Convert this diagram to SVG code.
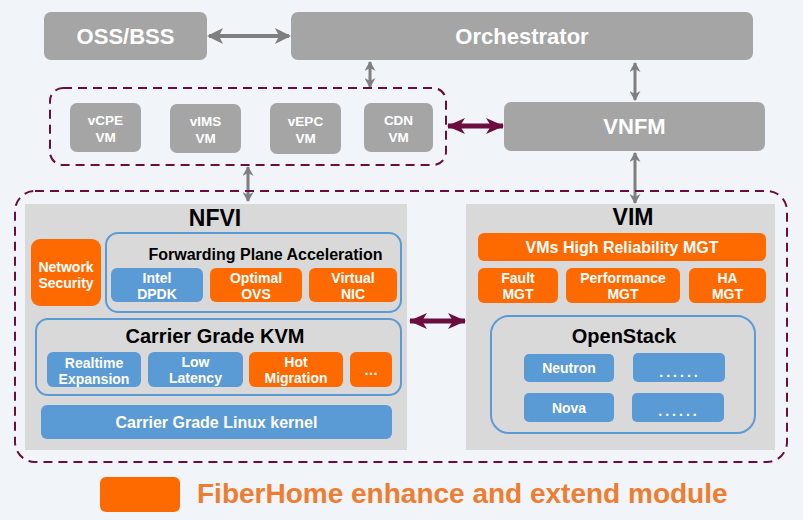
<svg xmlns="http://www.w3.org/2000/svg" width="803" height="520" viewBox="0 0 803 520">
<defs>
<style>
.gray{fill:#a5a5a5}
.org{fill:#ff6a00}
.blu{fill:#5b9bd5}
.pnl{fill:#d9d9d9}
.grp{fill:none;stroke:#5b9bd5;stroke-width:2}
.dash{fill:none;stroke:#6b0d3e;stroke-width:2;stroke-dasharray:9 6}
text{font-family:"Liberation Sans",Arial,sans-serif;font-weight:bold;text-anchor:middle}
.w{fill:#ffffff}
.b{fill:#000000}
.dots{letter-spacing:3px}
.ga{stroke:#7f7f7f;fill:none}
.ma{stroke:#6b0d3e;fill:none;stroke-width:5}
</style>
<marker id="gh" markerUnits="userSpaceOnUse" viewBox="0 0 16 16" refX="14" refY="8" markerWidth="16" markerHeight="16" orient="auto-start-reverse"><path d="M0,0 L16,8 L0,16 L4,8 Z" fill="#7f7f7f"/></marker>
<marker id="gs" markerUnits="userSpaceOnUse" viewBox="0 0 10 11" refX="9" refY="5.5" markerWidth="10" markerHeight="11" orient="auto-start-reverse"><path d="M0,0 L10,5.5 L0,11 L3,5.5 Z" fill="#7f7f7f"/></marker>
<marker id="mh" markerUnits="userSpaceOnUse" viewBox="0 0 18 16" refX="17" refY="8" markerWidth="18" markerHeight="16" orient="auto-start-reverse"><path d="M0,0 L18,8 L0,16 L5,8 Z" fill="#6b0d3e"/></marker>
</defs>
<rect width="803" height="520" fill="#f1f4f9"/>

<g id="connectors">
<line class="ga" x1="209" y1="36" x2="289" y2="36" stroke-width="4" marker-start="url(#gh)" marker-end="url(#gh)"/>
<line class="ga" x1="370" y1="62" x2="370" y2="87" stroke-width="3" marker-start="url(#gs)" marker-end="url(#gs)"/>
<line class="ga" x1="635" y1="63" x2="635" y2="100" stroke-width="3" marker-start="url(#gs)" marker-end="url(#gs)"/>
<line class="ga" x1="635" y1="153" x2="635" y2="203" stroke-width="3" marker-start="url(#gs)" marker-end="url(#gs)"/>
<line class="ga" x1="248" y1="167" x2="248" y2="201" stroke-width="3" marker-start="url(#gs)" marker-end="url(#gs)"/>
<line class="ma" x1="448" y1="126" x2="503" y2="126" marker-start="url(#mh)" marker-end="url(#mh)"/>
<line class="ma" x1="410" y1="321" x2="465" y2="321" marker-start="url(#mh)" marker-end="url(#mh)"/>
</g>

<g id="oss"><rect class="gray" x="44" y="12" width="163" height="48" rx="7"/><text class="w" x="125.5" y="44" font-size="22">OSS/BSS</text></g>
<g id="orchestrator"><rect class="gray" x="291" y="12" width="462" height="48" rx="7"/><text class="w" x="522" y="44" font-size="22">Orchestrator</text></g>

<g id="vnf-group"><rect class="dash" x="50" y="88" width="396" height="77" rx="13"/></g>
<g id="vcpe"><rect class="gray" x="70" y="103" width="71" height="49" rx="7"/><text class="w" x="105.5" y="125" font-size="13.5">vCPE</text><text class="w" x="105.5" y="142" font-size="13.5">VM</text></g>
<g id="vims"><rect class="gray" x="170" y="104" width="71" height="49" rx="7"/><text class="w" x="205.5" y="126" font-size="13.5">vIMS</text><text class="w" x="205.5" y="143" font-size="13.5">VM</text></g>
<g id="vepc"><rect class="gray" x="270" y="103" width="71" height="51" rx="7"/><text class="w" x="305.5" y="126" font-size="13.5">vEPC</text><text class="w" x="305.5" y="143" font-size="13.5">VM</text></g>
<g id="cdn"><rect class="gray" x="364" y="103" width="69" height="49" rx="7"/><text class="w" x="398.5" y="125" font-size="13.5">CDN</text><text class="w" x="398.5" y="142" font-size="13.5">VM</text></g>

<g id="vnfm"><rect class="gray" x="504" y="102" width="261" height="49" rx="7"/><text class="w" x="634.5" y="134" font-size="22">VNFM</text></g>

<g id="infra-group"><rect class="dash" x="15" y="191" width="772" height="271" rx="20"/></g>

<g id="nfvi">
<rect class="pnl" x="25" y="204" width="382" height="246"/>
<text class="b" x="215" y="226" font-size="23">NFVI</text>
</g>
<g id="netsec"><rect class="org" x="31" y="239" width="70" height="67" rx="9"/><text class="w" x="66" y="272" font-size="14">Network</text><text class="w" x="66" y="288" font-size="14">Security</text></g>
<g id="fpa">
<rect class="grp" x="106" y="233" width="295" height="79" rx="12"/>
<text class="b" x="265.5" y="260" font-size="16">Forwarding Plane Acceleration</text>
</g>
<g id="dpdk"><rect class="blu" x="111" y="268" width="92" height="34" rx="6"/><text class="w" x="157" y="283" font-size="14">Intel</text><text class="w" x="157" y="299" font-size="14">DPDK</text></g>
<g id="ovs"><rect class="org" x="210" y="268" width="92" height="34" rx="6"/><text class="w" x="256" y="283" font-size="14">Optimal</text><text class="w" x="256" y="299" font-size="14">OVS</text></g>
<g id="vnic"><rect class="org" x="309" y="268" width="88" height="34" rx="6"/><text class="w" x="353" y="283" font-size="14">Virtual</text><text class="w" x="353" y="299" font-size="14">NIC</text></g>
<g id="kvm">
<rect class="grp" x="36" y="319" width="365" height="76" rx="12"/>
<text class="b" x="215" y="343" font-size="20">Carrier Grade KVM</text>
</g>
<g id="realtime"><rect class="blu" x="47" y="352" width="94" height="35" rx="6"/><text class="w" x="94" y="368" font-size="14">Realtime</text><text class="w" x="94" y="384" font-size="14">Expansion</text></g>
<g id="lowlat"><rect class="blu" x="148" y="352" width="95" height="35" rx="6"/><text class="w" x="195.5" y="367" font-size="14">Low</text><text class="w" x="195.5" y="383" font-size="14">Latency</text></g>
<g id="hotmig"><rect class="org" x="249" y="352" width="94" height="35" rx="6"/><text class="w" x="296" y="367" font-size="14">Hot</text><text class="w" x="296" y="383" font-size="14">Migration</text></g>
<g id="more1"><rect class="org" x="350" y="352" width="42" height="35" rx="6"/><text class="w" x="371" y="375" font-size="14">…</text></g>
<g id="kernel"><rect class="blu" x="41" y="405" width="351" height="34" rx="6"/><text class="w" x="216.5" y="428" font-size="16">Carrier Grade Linux kernel</text></g>

<g id="vim">
<rect class="pnl" x="466" y="204" width="309" height="246"/>
<text class="b" x="633" y="225" font-size="23">VIM</text>
</g>
<g id="vmshr"><rect class="org" x="478" y="233" width="288" height="28" rx="6"/><text class="w" x="622" y="253" font-size="16">VMs High Reliability MGT</text></g>
<g id="fault"><rect class="org" x="478" y="268" width="80" height="35" rx="6"/><text class="w" x="518" y="283" font-size="14">Fault</text><text class="w" x="518" y="299" font-size="14">MGT</text></g>
<g id="perf"><rect class="org" x="566" y="268" width="114" height="35" rx="6"/><text class="w" x="623" y="283" font-size="14">Performance</text><text class="w" x="623" y="299" font-size="14">MGT</text></g>
<g id="ha"><rect class="org" x="689" y="268" width="77" height="35" rx="6"/><text class="w" x="727.5" y="283" font-size="14">HA</text><text class="w" x="727.5" y="299" font-size="14">MGT</text></g>
<g id="openstack">
<rect class="grp" x="491" y="316" width="264" height="117" rx="18"/>
<text class="b" x="624" y="343" font-size="20">OpenStack</text>
</g>
<g id="neutron"><rect class="blu" x="524" y="354" width="90" height="28" rx="5"/><text class="w" x="569" y="373" font-size="14">Neutron</text></g>
<g id="more2"><rect class="blu" x="633" y="353" width="92" height="29" rx="5"/><text class="w dots" x="680" y="377" font-size="14">......</text></g>
<g id="nova"><rect class="blu" x="524" y="393" width="90" height="29" rx="5"/><text class="w" x="569" y="413" font-size="14">Nova</text></g>
<g id="more3"><rect class="blu" x="632" y="393" width="92" height="29" rx="5"/><text class="w dots" x="679" y="416" font-size="14">......</text></g>

<g id="legend">
<rect class="org" x="100" y="477" width="80" height="35" rx="6"/>
<text x="197" y="503" font-size="28" fill="#ed7d31" style="text-anchor:start">FiberHome enhance and extend module</text>
</g>
</svg>
